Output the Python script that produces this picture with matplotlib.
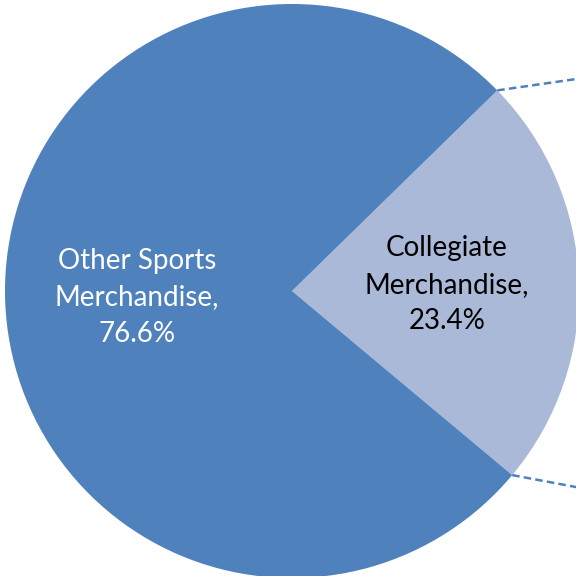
import numpy as np
import matplotlib
matplotlib.use('Agg')
import matplotlib.pyplot as plt

categories = ['Collegiate\nMerchandise', 'Other Sports\nMerchandise']
shares = [23.4, 76.6]
colors = ['#AAB9D7', '#4F81BD']
text_colors = ['black', 'white']

plt.rcParams['font.family'] = ['Lato', 'DejaVu Sans']

fig = plt.figure(figsize=(5.76, 5.76), dpi=100)
ax = fig.add_axes([0, 0, 1, 1])

start = -39.9
labels = [f'{c},\n{v:.1f}%' for c, v in zip(categories, shares)]
wedges, texts = ax.pie(shares, labels=labels, colors=colors, startangle=start,
                       counterclock=True, labeldistance=0.54,
                       wedgeprops=dict(linewidth=0))
for t, c in zip(texts, text_colors):
    t.set_color(c)
    t.set_fontsize(20)
    t.set_ha('center')
    t.set_va('center')
    t.set_linespacing(1.5)

# leader lines from the edges of the collegiate slice
end_angle = start + shares[0] / 100 * 360
for ang, y_end in [(end_angle, 0.74), (start, -0.685)]:
    a = np.deg2rad(ang)
    ax.plot([np.cos(a), 1.0], [np.sin(a), y_end], ls=(0, (3, 1.7)),
            color='#4F81BD', lw=1.8, clip_on=False)

ax.set_xlim(-1.0174, 0.9895)
ax.set_ylim(-0.993, 1.0139)
ax.set_aspect('equal')
ax.axis('off')

plt.savefig('out.png', dpi=100)
